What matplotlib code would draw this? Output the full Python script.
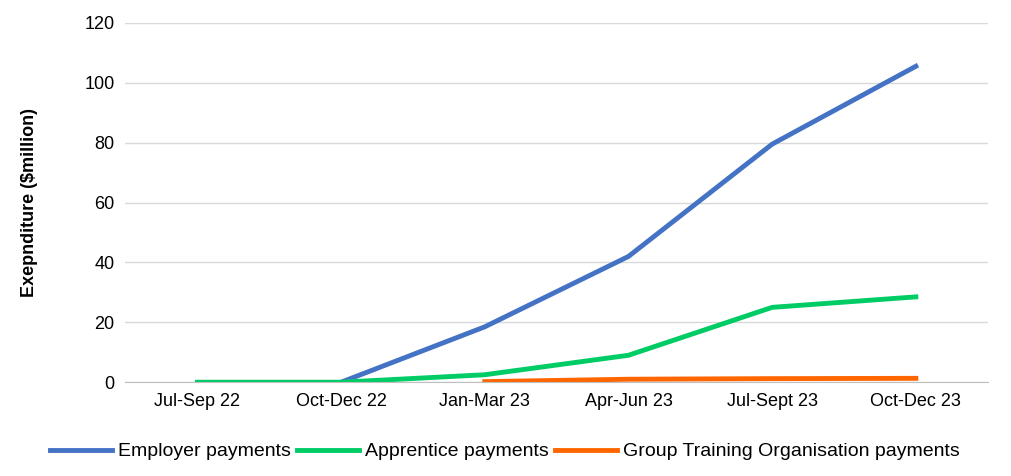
import matplotlib.pyplot as plt
import numpy as np

plt.rcParams["font.family"] = ["Liberation Sans", "DejaVu Sans"]
plt.rcParams["font.size"] = 13

quarters = ["Jul-Sep 22", "Oct-Dec 22", "Jan-Mar 23", "Apr-Jun 23", "Jul-Sept 23", "Oct-Dec 23"]
employer = [np.nan, 0, 18.5, 42, 79.5, 105.5]
apprentice = [0, 0, 2.5, 9, 25, 28.5]
gto = [np.nan, np.nan, 0.2, 1.0, 1.2, 1.3]

fig = plt.figure(figsize=(10.12, 4.76), dpi=100)
ax = fig.add_axes([0.124, 0.197, 0.852, 0.755])
x = np.arange(len(quarters))
ax.plot(x, employer, color="#4472C4", lw=3.5, label="Employer payments")
ax.plot(x, apprentice, color="#00CC66", lw=3.5, label="Apprentice payments")
ax.plot(x, gto, color="#FF6600", lw=3.5, label="Group Training Organisation payments")

ax.set_xlim(-0.5, 5.5)
ax.set_ylim(0, 120)
ax.set_yticks(range(0, 121, 20))
ax.set_xticks(x)
ax.set_xticklabels(quarters)
ax.grid(axis="y", color="#D9D9D9", lw=1)
ax.set_axisbelow(True)
for s in ["top", "right", "left"]:
    ax.spines[s].set_visible(False)
ax.spines["bottom"].set_color("#BFBFBF")
ax.tick_params(length=0, pad=8)
ax.set_ylabel("Exepnditure ($million)", fontweight="bold", labelpad=33)
ax.legend(loc="upper center", bbox_to_anchor=(0.44, -0.12), ncol=3, frameon=False,
          fontsize=14, handlelength=3.2, columnspacing=0.3, handletextpad=0.3)

fig.savefig("out.png")
